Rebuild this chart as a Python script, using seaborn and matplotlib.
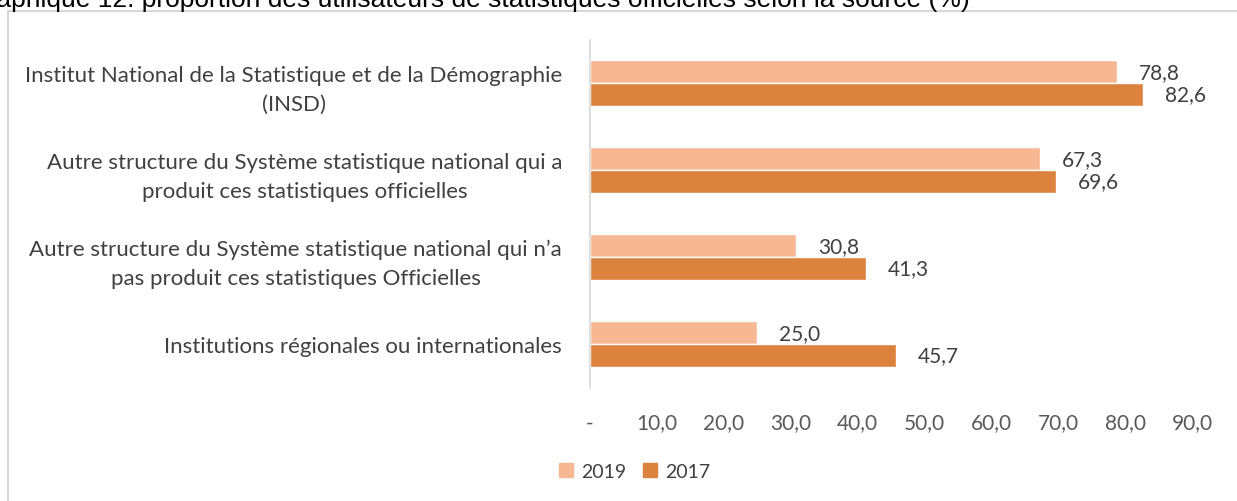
import matplotlib.pyplot as plt
import matplotlib.patches as mpatches
import seaborn as sns
import pandas as pd

# Données
categories = [
    "Institut National de la Statistique et de la Démographie\n(INSD)",
    "Autre structure du Système statistique national qui a\nproduit ces statistiques officielles",
    "Autre structure du Système statistique national qui n’a\npas produit ces statistiques Officielles",
    "Institutions régionales ou internationales",
]
annees = ["2019", "2017"]
valeurs_2019 = [78.8, 67.3, 30.8, 25.0]
valeurs_2017 = [82.6, 69.6, 41.3, 45.7]
ticks_x = [0, 10, 20, 30, 40, 50, 60, 70, 80, 90]
couleurs = {"2019": "#F8B793", "2017": "#DB823F"}

df = pd.DataFrame({
    "source": categories * 2,
    "annee": ["2019"] * 4 + ["2017"] * 4,
    "valeur": valeurs_2019 + valeurs_2017,
})

sns.set_theme(style="white")
plt.rcParams["font.family"] = ["Lato", "DejaVu Sans"]

fig = plt.figure(figsize=(12.37, 5.02), dpi=100)
ax = fig.add_axes([590 / 1237, 1 - 388.5 / 502, (1192 - 590) / 1237, (388.5 - 40.5) / 502])

sns.barplot(data=df, y="source", x="valeur", hue="annee", hue_order=annees,
            order=categories, palette=couleurs, width=0.52, orient="h",
            saturation=1, ax=ax, legend=False)

# étiquettes de valeurs
for cont in ax.containers:
    for bar in cont:
        v = bar.get_width()
        ax.annotate(f"{v:.1f}".replace(".", ","),
                    (v, bar.get_y() + bar.get_height() / 2),
                    xytext=(22, 0), textcoords="offset pixels",
                    ha="left", va="center", fontsize=15, color="#404040")

ax.set_xlim(0, 90)
ax.set_xticks(ticks_x)
ax.set_xticklabels(["-"] + [f"{t:.1f}".replace(".", ",") for t in ticks_x[1:]])
ax.tick_params(axis="x", length=0, pad=18, labelsize=15, labelcolor="#595959")
ax.tick_params(axis="y", length=0, pad=20, labelsize=16, labelcolor="#404040")
for lab in ax.get_yticklabels():
    lab.set_multialignment("center")
    lab.set_linespacing(1.55)
ax.set_xlabel("")
ax.set_ylabel("")
for s in ["top", "right", "bottom"]:
    ax.spines[s].set_visible(False)
ax.spines["left"].set_color("#D9D9D9")
ax.spines["left"].set_linewidth(1.2)

# légende
handles = [mpatches.Patch(color=couleurs[a], label=a) for a in annees]
fig.legend(handles=handles, loc="center", bbox_to_anchor=(0.513, 1 - 472 / 502),
           ncol=2, frameon=False, fontsize=14, handlelength=0.7, handleheight=0.7,
           handletextpad=0.4, columnspacing=0.9, labelcolor="#404040")

# cadre du graphique
fig.add_artist(mpatches.Rectangle((8 / 1237, -0.01), 1.1, 1 - 12 / 502 + 0.01,
                                  transform=fig.transFigure, fill=False,
                                  edgecolor="#D0D0D0", linewidth=1.2))

# titre (coupé en haut et à gauche dans l'original)
fig.text(-33 / 1237, 1 - 7 / 502, "Graphique 12: proportion des utilisateurs de statistiques officielles selon la source (%)",
         ha="left", va="baseline", fontsize=19, family="Liberation Sans", color="black")

fig.savefig("out.png", dpi=100)
